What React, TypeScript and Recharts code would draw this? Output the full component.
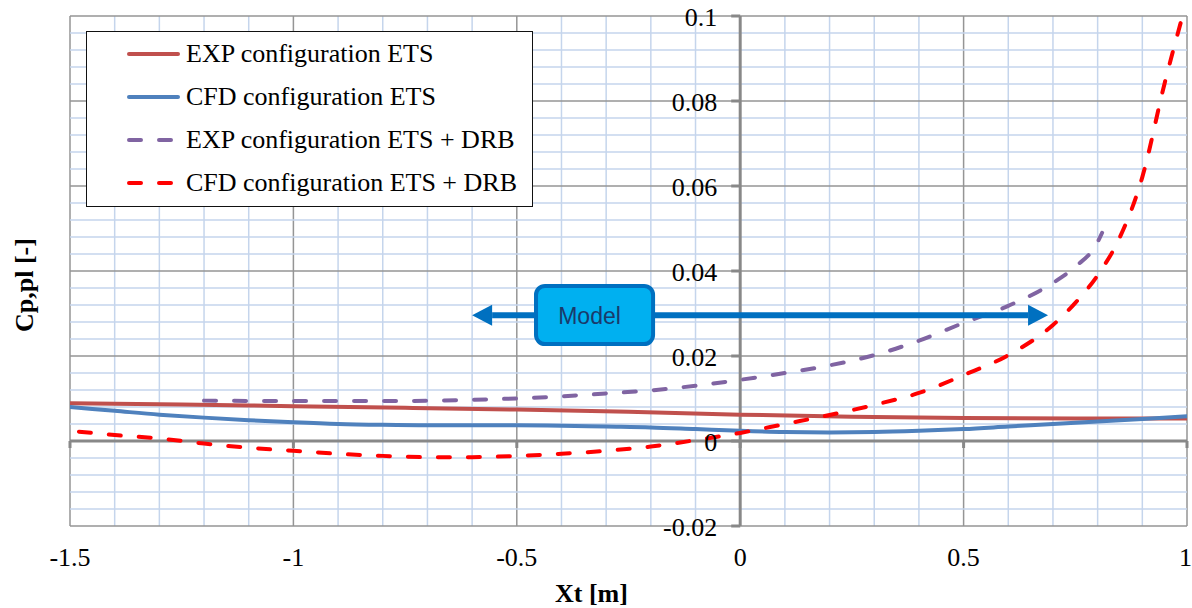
import {
  CartesianGrid,
  Legend,
  Line,
  LineChart,
  ReferenceDot,
  ReferenceLine,
  XAxis,
  YAxis,
} from 'recharts';

// series values
const expEtsX = [-1.5, -1.25, -1, -0.75, -0.5, -0.25, 0, 0.25, 0.5, 0.75, 1];
const expEtsY = [0.0089, 0.0086, 0.0082, 0.0078, 0.0074, 0.0069, 0.0062, 0.0057, 0.0054, 0.0053, 0.0053];

const cfdEtsX = [-1.5, -1.4, -1.3, -1.2, -1.1, -1, -0.9, -0.8, -0.7, -0.6, -0.5, -0.4, -0.3, -0.2, -0.1, 0, 0.1, 0.2, 0.3, 0.4, 0.5, 0.6, 0.7, 0.8, 0.9, 1];
const cfdEtsY = [0.008, 0.0071, 0.0062, 0.0055, 0.0049, 0.0044, 0.004, 0.0038, 0.0037, 0.0037, 0.0037, 0.0036, 0.0034, 0.0032, 0.0028, 0.0024, 0.0021, 0.002, 0.0021, 0.0024, 0.0028, 0.0034, 0.004, 0.0046, 0.0052, 0.0058];

const expDrbX = [-1.2, -1.0, -0.8, -0.6, -0.4, -0.3, -0.2, -0.1, 0, 0.1, 0.2, 0.3, 0.4, 0.5, 0.6, 0.7, 0.75, 0.8, 0.81];
const expDrbY = [0.0095, 0.0094, 0.0094, 0.0097, 0.0105, 0.0112, 0.0119, 0.013, 0.0144, 0.016, 0.0178, 0.0202, 0.0236, 0.0278, 0.0318, 0.0372, 0.041, 0.0468, 0.049];

const cfdDrbX = [-1.48, -1.4, -1.3, -1.2, -1.1, -1, -0.9, -0.8, -0.7, -0.6, -0.5, -0.4, -0.3, -0.2, -0.1, 0, 0.1, 0.2, 0.3, 0.4, 0.5, 0.6, 0.7, 0.75, 0.8, 0.85, 0.9, 0.95, 0.99];
const cfdDrbY = [0.0022, 0.0014, 0.0006, -0.0006, -0.0016, -0.0023, -0.003, -0.0035, -0.0038, -0.0038, -0.0035, -0.003, -0.0023, -0.0013, 0.0002, 0.0019, 0.004, 0.0061, 0.0085, 0.0113, 0.0155, 0.0202, 0.0273, 0.0325, 0.039, 0.048, 0.0621, 0.0842, 0.1];

const seriesNames = [
  'EXP configuration ETS',
  'CFD configuration ETS',
  'EXP configuration ETS + DRB',
  'CFD configuration ETS + DRB',
];

const xTicks = [-1.5, -1, -0.5, 0, 0.5, 1];
const xTickLabels = ['-1.5', '-1', '-0.5', '0', '0.5', '1'];
const yTicks = [-0.02, 0, 0.02, 0.04, 0.06, 0.08, 0.1];
const yTickLabels = ['-0.02', '0', '0.02', '0.04', '0.06', '0.08', '0.1'];
const xMinor = [-1.4, -1.3, -1.2, -1.1, -0.9, -0.8, -0.7, -0.6, -0.4, -0.3, -0.2, -0.1, 0.1, 0.2, 0.3, 0.4, 0.6, 0.7, 0.8, 0.9];
const yMinor = [-0.016, -0.012, -0.008, -0.004, 0.004, 0.008, 0.012, 0.016, 0.024, 0.028, 0.032, 0.036, 0.044, 0.048, 0.052, 0.056, 0.064, 0.068, 0.072, 0.076, 0.084, 0.088, 0.092, 0.096];

// "Model" annotation
const modelLabel = 'Model';
const modelBoxX = [-0.457, -0.195];
const modelBoxY = [0.0228, 0.0365];
const modelArrowX = [-0.6, 0.689];
const modelArrowY = 0.0296;

const toPoints = (xs: number[], ys: number[]) => xs.map((x, i) => ({ x, y: ys[i] }));

const series = [
  { name: seriesNames[0], data: toPoints(expEtsX, expEtsY), color: '#C0504D', dash: undefined },
  { name: seriesNames[1], data: toPoints(cfdEtsX, cfdEtsY), color: '#4F81BD', dash: undefined },
  { name: seriesNames[2], data: toPoints(expDrbX, expDrbY), color: '#8064A2', dash: '12 18' },
  { name: seriesNames[3], data: toPoints(cfdDrbX, cfdDrbY), color: '#FF0000', dash: '12 18' },
];

const SERIF = '"Liberation Serif", "Times New Roman", serif';
const AXIS = '#888888';
const MINOR = '#C5D5EC';
const MAJOR = '#959595';

function ChartLegend() {
  return (
    <div
      style={{
        boxSizing: 'border-box',
        width: 447,
        height: 176,
        border: '1.5px solid #111',
        background: '#fff',
        fontFamily: SERIF,
        fontSize: 26,
        color: '#000',
      }}
    >
      {series.map((s) => (
        <div key={s.name} style={{ display: 'flex', alignItems: 'center', height: 43 }}>
          <svg width={53} height={10} style={{ marginLeft: 40, marginRight: 6 }}>
            <line
              x1={2}
              y1={5}
              x2={51}
              y2={5}
              stroke={s.color}
              strokeWidth={4}
              strokeLinecap="round"
              strokeDasharray={s.dash ? '12 18' : undefined}
            />
          </svg>
          <span style={{ whiteSpace: 'nowrap' }}>{s.name}</span>
        </div>
      ))}
    </div>
  );
}

function YTitle(props: any) {
  const vb = props.viewBox;
  const cx = vb.x + 24;
  const cy = vb.y + vb.height / 2 + 14;
  return (
    <text
      x={cx}
      y={cy}
      transform={`rotate(-90, ${cx}, ${cy})`}
      textAnchor="middle"
      dominantBaseline="central"
      fontFamily={SERIF}
      fontSize={26}
      fontWeight="bold"
      fill="#000"
    >
      Cp,pl [-]
    </text>
  );
}

function XTitle(props: any) {
  const vb = props.viewBox;
  return (
    <text
      x={vb.x + vb.width / 2 - 37}
      y={vb.y + 76}
      textAnchor="middle"
      fontFamily={SERIF}
      fontSize={26}
      fontWeight="bold"
      fill="#000"
    >
      Xt [m]
    </text>
  );
}

function arrowShape(side: 'left' | 'right') {
  return (p: any) => {
    const { x1, y1, x2, y2 } = p;
    const tipX = side === 'left' ? Math.min(x1, x2) : Math.max(x1, x2);
    const dir = side === 'left' ? 1 : -1;
    const baseX = tipX + dir * 20;
    return (
      <g>
        <line
          x1={side === 'left' ? baseX : x1}
          y1={y1}
          x2={side === 'left' ? x2 : baseX}
          y2={y2}
          stroke="#0070C0"
          strokeWidth={6}
        />
        <polygon
          points={`${tipX},${y1} ${baseX},${y1 - 10.5} ${baseX},${y1 + 10.5}`}
          fill="#0070C0"
        />
      </g>
    );
  };
}

// box drawn from the diagonal of a reference segment so it stays above the grid lines
function modelBoxShape(p: any) {
  const x = Math.min(p.x1, p.x2);
  const y = Math.min(p.y1, p.y2);
  const w = Math.abs(p.x2 - p.x1);
  const h = Math.abs(p.y2 - p.y1);
  return (
    <g>
      <rect x={x} y={y} width={w} height={h} rx={9} ry={9} fill="#00B0F0" stroke="#0070C0" strokeWidth={4} />
      <text
        x={x + w / 2 - 5}
        y={y + h / 2 + 1}
        textAnchor="middle"
        dominantBaseline="central"
        fontFamily='"Liberation Sans", Arial, sans-serif'
        fontSize={23}
        fill="#1A3A6B"
      >
        {modelLabel}
      </text>
    </g>
  );
}

export default function App() {
  return (
    <div style={{ position: 'absolute', left: 0, top: 0, fontFamily: SERIF }}>
      <LineChart width={1192} height={608} margin={{ top: 16, right: 5, bottom: 0, left: 0 }}>
        <CartesianGrid stroke={MINOR} strokeWidth={1.5} horizontal={false} verticalValues={xMinor} />
        <CartesianGrid stroke={MAJOR} strokeWidth={1.5} horizontal={false} verticalValues={xTicks} />
        {yMinor.map((v) => (
          <ReferenceLine key={`ym${v}`} y={v} stroke={MINOR} strokeWidth={1.5} />
        ))}
        {yTicks.map((v) => (
          <ReferenceLine key={`yg${v}`} y={v} stroke={MAJOR} strokeWidth={1.5} />
        ))}
        <XAxis
          type="number"
          dataKey="x"
          domain={[-1.5, 1]}
          ticks={xTicks}
          tickFormatter={(v: number) => xTickLabels[xTicks.indexOf(v)] ?? String(v)}
          allowDataOverflow
          axisLine={false}
          tickLine={false}
          tickSize={0}
          tickMargin={22}
          height={82}
          tick={{ fontFamily: SERIF, fontSize: 26, fill: '#000' }}
          label={<XTitle />}
        />
        <YAxis
          type="number"
          domain={[-0.02, 0.1]}
          ticks={yTicks}
          allowDataOverflow
          width={70}
          tick={false}
          axisLine={false}
          tickLine={false}
          label={<YTitle />}
        />
        <ReferenceLine x={0} stroke={AXIS} strokeWidth={3} />
        <ReferenceLine y={0} stroke={AXIS} strokeWidth={3} />
        {yTicks.map((v, i) => (
          <ReferenceDot
            key={`yt${v}`}
            x={0}
            y={v}
            r={0}
            shape={(p: any) => (
              <g>
                <line x1={p.cx - 9} y1={p.cy} x2={p.cx} y2={p.cy} stroke={AXIS} strokeWidth={3} />
                <text
                  x={p.cx - 23}
                  y={p.cy + 1}
                  textAnchor="end"
                  dominantBaseline="central"
                  fontFamily={SERIF}
                  fontSize={26}
                  fill="#000"
                >
                  {yTickLabels[i]}
                </text>
              </g>
            )}
          />
        ))}
        {xTicks.map((v) => (
          <ReferenceDot
            key={`xt${v}`}
            x={v}
            y={0}
            r={0}
            shape={(p: any) => <line x1={p.cx} y1={p.cy} x2={p.cx} y2={p.cy + 7} stroke={AXIS} strokeWidth={3} />}
          />
        ))}
        {series.map((s) => (
          <Line
            key={s.name}
            data={s.data}
            dataKey="y"
            name={s.name}
            type="monotone"
            stroke={s.color}
            strokeWidth={4}
            strokeDasharray={s.dash}
            strokeLinecap="round"
            dot={false}
            activeDot={false}
            isAnimationActive={false}
          />
        ))}
        <ReferenceLine
          segment={[
            { x: modelArrowX[0], y: modelArrowY },
            { x: modelBoxX[0], y: modelArrowY },
          ]}
          shape={arrowShape('left')}
        />
        <ReferenceLine
          segment={[
            { x: modelBoxX[1], y: modelArrowY },
            { x: modelArrowX[1], y: modelArrowY },
          ]}
          shape={arrowShape('right')}
        />
        <ReferenceLine
          segment={[
            { x: modelBoxX[0], y: modelBoxY[1] },
            { x: modelBoxX[1], y: modelBoxY[0] },
          ]}
          shape={modelBoxShape}
        />
        <Legend
          layout="horizontal"
          verticalAlign="middle"
          align="center"
          content={<ChartLegend />}
          wrapperStyle={{ left: 86, top: 31, width: 'auto', height: 'auto' }}
        />
      </LineChart>
    </div>
  );
}
